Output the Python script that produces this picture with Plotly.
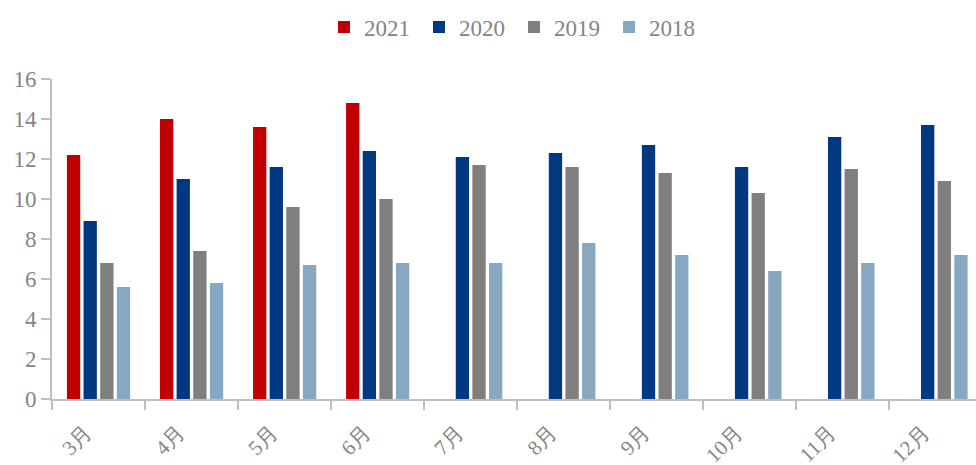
"""Monthly grouped bar chart, 2018-2021."""

import plotly.graph_objects as go

MONTHS = ["3月", "4月", "5月", "6月", "7月", "8月", "9月", "10月", "11月", "12月"]
Y2021 = [12.2, 14.0, 13.6, 14.8, None, None, None, None, None, None]
Y2020 = [8.9, 11.0, 11.6, 12.4, 12.1, 12.3, 12.7, 11.6, 13.1, 13.7]
Y2019 = [6.8, 7.4, 9.6, 10.0, 11.7, 11.6, 11.3, 10.3, 11.5, 10.9]
Y2018 = [5.6, 5.8, 6.7, 6.8, 6.8, 7.8, 7.2, 6.4, 6.8, 7.2]

SERIES = [
    ("2021", Y2021, "#C00000"),
    ("2020", Y2020, "#003882"),
    ("2019", Y2019, "#7F7F7F"),
    ("2018", Y2018, "#86A8C2"),
]

FONT = "Liberation Serif"
TEXT = "#858585"
AXIS = "#BFBFBF"

fig = go.Figure()
for name, values, color in SERIES:
    fig.add_trace(
        go.Bar(
            x=MONTHS,
            y=values,
            name=name,
            marker=dict(color=color, line=dict(width=0)),
        )
    )

fig.update_layout(
    width=976,
    height=465,
    barmode="group",
    bargap=0.285,
    bargroupgap=0.2,
    paper_bgcolor="white",
    plot_bgcolor="white",
    font=dict(family=FONT, color=TEXT, size=20),
    margin=dict(l=52, r=0, t=79, b=66, autoexpand=False),
    legend=dict(
        orientation="h",
        x=0.5,
        xanchor="center",
        y=1 - 27 / 465,
        yanchor="middle",
        yref="container",
        font=dict(size=23, color=TEXT),
        entrywidth=50,
        entrywidthmode="pixels",
        itemwidth=30,
    ),
)
fig.update_xaxes(
    type="category",
    range=[-0.5, 9.43],
    showline=True,
    linecolor=AXIS,
    linewidth=2,
    ticks="outside",
    tickson="boundaries",
    ticklen=9,
    tickcolor=AXIS,
    tickwidth=2,
    tickangle=-45,
    tickfont=dict(size=21, color=TEXT),
    ticklabelstandoff=11,
    ticklabelshift=-13,
    showgrid=False,
)
fig.update_yaxes(
    range=[0, 16],
    dtick=2,
    showline=True,
    linecolor=AXIS,
    linewidth=2,
    ticks="outside",
    ticklen=9,
    tickcolor=AXIS,
    tickwidth=2,
    tickfont=dict(size=23, color=TEXT),
    showgrid=False,
    zeroline=False,
)

fig.write_html(
    "out.html",
    config={"displayModeBar": False},
    post_script="document.body.style.margin='0';",
)
